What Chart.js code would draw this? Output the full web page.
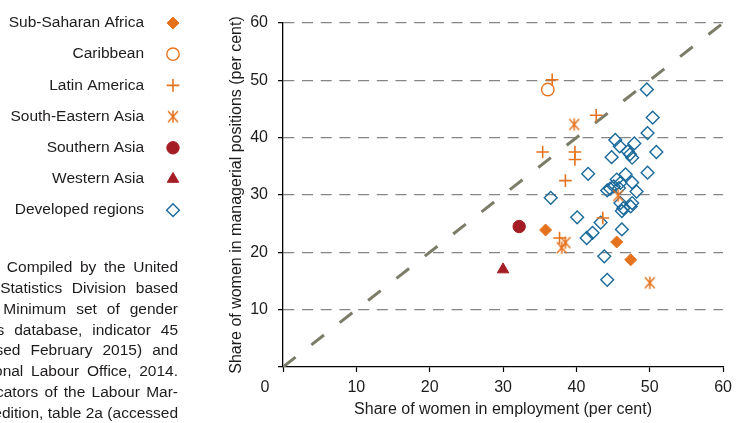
<!DOCTYPE html>
<html><head><meta charset="utf-8">
<script src="https://cdn.jsdelivr.net/npm/chart.js@4/dist/chart.umd.min.js"></script>
<style>html,body{margin:0;padding:0;background:#fff;overflow:hidden}#wrap{width:738px;height:423px;position:relative}</style>
</head><body><div id="wrap"><canvas id="c" width="738" height="423"></canvas></div>
<script>
const FONT = "'Liberation Sans', Arial, sans-serif";
const TEXT = '#1e1b1c';
const ORANGE = '#e5731e';
const RED = '#a51d24';
const BLUE = '#19699a';

// ---- data (x = share of women in employment, y = share of women in managerial positions) ----
const seriesNames = ['Sub-Saharan Africa','Caribbean','Latin America','South-Eastern Asia','Southern Asia','Western Asia','Developed regions'];
const subSaharanAfrica = [[35.8,23.9],[45.5,21.8],[47.4,18.7]];
const caribbean = [[36.1,48.4]];
const latinAmerica = [[36.7,50.1],[42.7,43.9],[35.4,37.5],[39.8,37.5],[39.8,36.2],[38.5,32.5],[43.6,26.0],[37.7,22.5]];
const southEasternAsia = [[39.7,42.3],[45.7,29.9],[38.0,20.8],[38.5,21.7],[50.0,14.7]];
const southernAsia = [[32.2,24.5]];
const westernAsia = [[30.0,17.0]];
const developedRegions = [[49.6,48.4],[50.4,43.5],[49.7,40.8],[50.9,37.5],[49.7,33.9],
  [45.3,39.6],[45.9,38.5],[47.9,39.0],[44.8,36.6],[47.0,37.6],[47.3,37.1],[47.6,36.5],
  [41.6,33.7],[46.7,33.6],[45.5,32.7],[46.0,32.1],[47.6,32.2],[45.1,31.5],[44.6,31.1],[44.2,30.8],[45.8,31.2],[48.2,30.6],
  [46.0,28.6],[47.6,28.6],[46.4,27.7],[47.4,28.0],[46.2,27.2],
  [36.5,29.5],[40.1,26.1],[43.3,25.2],[42.2,23.4],[41.4,22.5],[46.2,24.0],[43.8,19.3],[44.2,15.2]];
const parityLine = [[0,0],[60,60]];
const axisTicks = [0,10,20,30,40,50,60];
const xTitle = 'Share of women in employment (per cent)';
const yTitle = 'Share of women in managerial positions (per cent)';
const sourceLines = ['Sources: Compiled by the United','Nations Statistics Division based','on the Minimum set of gender','indicators database, indicator 45','(accessed February 2015) and','International Labour Office, 2014.','Key Indicators of the Labour Mar-','ket, 8th edition, table 2a (accessed'];

function asterisk(color){
  const s = 16, c = document.createElement('canvas'); c.width = s; c.height = s;
  const g = c.getContext('2d'); g.strokeStyle = color; g.lineWidth = 1.5;
  const m = s/2, r = 6.2;
  g.beginPath();
  g.moveTo(m-r*0.8,m-r*0.9); g.lineTo(m+r*0.8,m+r*0.9);
  g.moveTo(m+r*0.8,m-r*0.9); g.lineTo(m-r*0.8,m+r*0.9);
  g.moveTo(m,m-r); g.lineTo(m,m+r);
  g.stroke();
  return c;
}
const NONE = 'rgba(0,0,0,0)';
const styles = [
  {pointStyle:'rectRot', radius:6, bg:ORANGE, bc:ORANGE, bw:1},
  {pointStyle:'circle', radius:6.2, bg:NONE, bc:ORANGE, bw:1.4},
  {pointStyle:'cross', radius:6.3, bg:NONE, bc:ORANGE, bw:1.6},
  {pointStyle:asterisk(ORANGE), radius:6.5, bg:NONE, bc:ORANGE, bw:1.5},
  {pointStyle:'circle', radius:6.2, bg:RED, bc:RED, bw:1},
  {pointStyle:'triangle', radius:6.6, bg:RED, bc:RED, bw:1},
  {pointStyle:'rectRot', radius:6.4, bg:NONE, bc:BLUE, bw:1.4}
];
const seriesData = [subSaharanAfrica,caribbean,latinAmerica,southEasternAsia,southernAsia,westernAsia,developedRegions];
const toXY = a => a.map(p => ({x:p[0], y:p[1]}));

const datasets = seriesData.map((d,i) => ({
  label: seriesNames[i], data: toXY(d), order: 1,
  pointStyle: styles[i].pointStyle, pointRadius: styles[i].radius,
  backgroundColor: styles[i].bg, borderColor: styles[i].bc, borderWidth: styles[i].bw,
  pointHoverRadius: styles[i].radius
}));
datasets.push({type:'line', label:'parity', data: toXY(parityLine), order: 10,
  borderColor:'#7c7c69', borderWidth:3, borderDash:[16,20], pointRadius:0, fill:false, tension:0});

function drawMarker(ctx, st, x, y){
  ctx.save();
  ctx.fillStyle = st.bg; ctx.strokeStyle = st.bc; ctx.lineWidth = st.bw;
  if (Chart.helpers && Chart.helpers.drawPoint) {
    Chart.helpers.drawPoint(ctx, {pointStyle: st.pointStyle, radius: st.radius, borderWidth: st.bw, rotation: 0}, x, y);
  }
  ctx.restore();
}

function justified(ctx, text, left, right, y){
  const words = text.split(' ');
  const widths = words.map(w => ctx.measureText(w).width);
  const total = widths.reduce((a,b) => a+b, 0);
  const gap = words.length > 1 ? Math.min(10, Math.max(2, (right - left - total) / (words.length - 1))) : 0;
  let x = right - total - gap * (words.length - 1);
  ctx.textAlign = 'left';
  words.forEach((w,i) => { ctx.fillText(w, x, y); x += widths[i] + gap; });
}

const sidePlugin = {
  id: 'side',
  afterDraw(chart){
    const ctx = chart.ctx;
    ctx.save();
    ctx.fillStyle = TEXT;
    ctx.textBaseline = 'middle';
    ctx.font = '15.5px ' + FONT;
    seriesNames.forEach((n,i) => {
      const y = 23 + i*31.2;
      ctx.fillStyle = TEXT;
      ctx.textAlign = 'right';
      ctx.fillText(n, 144, y);
      drawMarker(ctx, styles[i], 173, y);
    });
    ctx.fillStyle = TEXT;
    ctx.font = '15.5px ' + FONT;
    sourceLines.forEach((t,i) => justified(ctx, t, -62, 178, 268 + i*20.8));
    const xs = chart.scales.x;
    ctx.textAlign = 'center';
    ctx.font = '16px ' + FONT;
    ctx.fillText(String(axisTicks[0]), xs.getPixelForValue(axisTicks[0]) - 18, xs.top + 21);
    ctx.restore();
  }
};

new Chart(document.getElementById('c'), {
  type: 'scatter',
  data: { datasets },
  plugins: [sidePlugin],
  options: {
    responsive: false, animation: false, events: [],
    layout: { padding: { left: 210, right: 11, top: 23, bottom: 0 } },
    plugins: { legend: { display: false }, tooltip: { enabled: false } },
    scales: {
      x: {
        type: 'linear', min: 0, max: 60,
        afterBuildTicks: s => { s.ticks = axisTicks.map(v => ({value: v})); },
        afterFit: s => { s.height = 56; },
        ticks: { callback: v => v === 0 ? '' : String(v), color: TEXT, font: {family: FONT, size: 16}, padding: 6, maxRotation: 0 },
        grid: { drawOnChartArea: false, drawTicks: true, tickLength: 5, tickColor: '#000', tickWidth: 1.2 },
        border: { display: true, color: '#000', width: 1.3 },
        title: { display: true, text: xTitle, color: TEXT, font: {family: FONT, size: 16}, padding: {top: 4, bottom: 4} }
      },
      y: {
        type: 'linear', min: 0, max: 60,
        afterBuildTicks: s => { s.ticks = axisTicks.map(v => ({value: v})); },
        afterFit: s => { s.width = 73; },
        ticks: { callback: v => v === 0 ? '' : String(v), color: TEXT, font: {family: FONT, size: 16}, padding: 10 },
        grid: { drawOnChartArea: true, drawTicks: true, tickLength: 5, tickColor: '#000', tickWidth: 1.2,
          color: c => (c.tick && c.tick.value === 0) ? NONE : '#858585', lineWidth: 1.3 },
        border: { display: true, color: '#000', width: 1.3, dash: [11, 7.7] },
        title: { display: true, text: yTitle, color: TEXT, font: {family: FONT, size: 16}, padding: {top: 17, bottom: 4} }
      }
    }
  }
});
</script></body></html>
